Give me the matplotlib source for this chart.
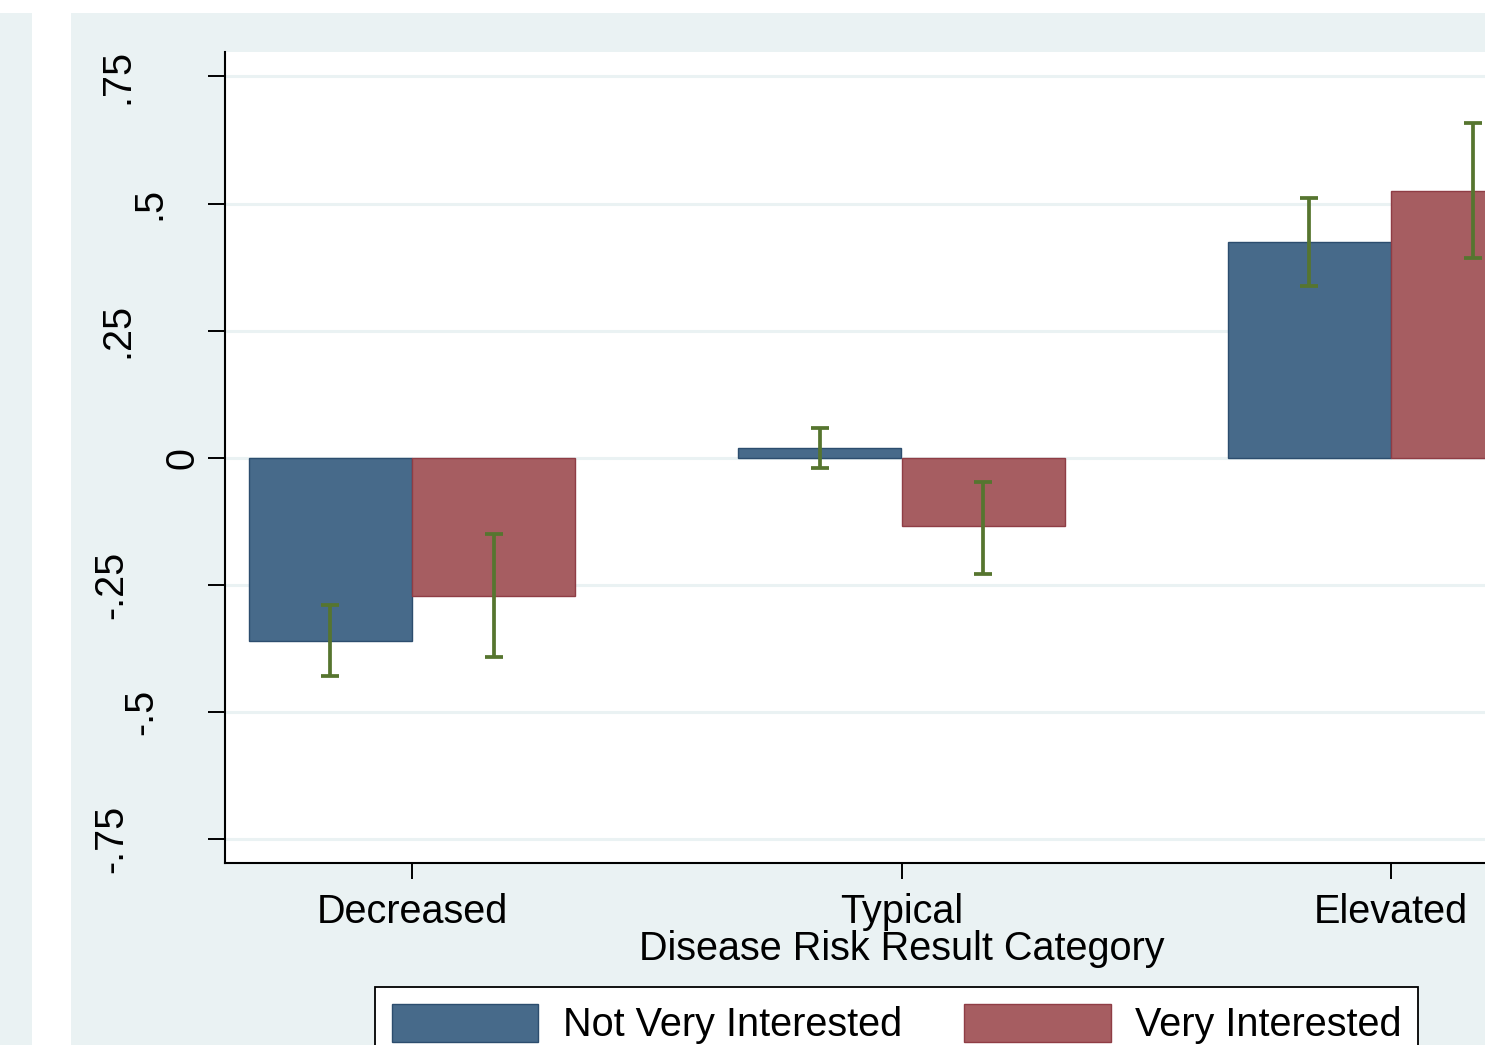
import numpy as np
import matplotlib
matplotlib.use('Agg')
import matplotlib.pyplot as plt
from matplotlib.patches import Rectangle
from matplotlib.transforms import blended_transform_factory

plt.rcParams['font.family'] = ['Liberation Sans', 'DejaVu Sans']

# data
categories = ['Decreased', 'Typical', 'Elevated']
series_names = ['Not Very Interested', 'Very Interested']
not_very = [-0.360, 0.019, 0.424]
not_very_lo = [-0.429, -0.021, 0.337]
not_very_hi = [-0.289, 0.058, 0.511]
very = [-0.272, -0.135, 0.524]
very_lo = [-0.392, -0.228, 0.392]
very_hi = [-0.150, -0.047, 0.659]
yticks = [0.75, 0.5, 0.25, 0, -0.25, -0.5, -0.75]
ytick_labels = ['.75', '.5', '.25', '0', '-.25', '-.5', '-.75']

# layout / style
W, H = 1485, 1045
BG = '#eaf2f3'
BLUE, BLUE_EDGE = '#476a8a', '#2c4d6e'
RED, RED_EDGE = '#a65d61', '#8f3d45'
GREEN = '#56752f'
FS = 28.5
ytick_label_px = [128, 160, 128, 193, 122, 152, 122]   # baseline x of each rotated label

fig = plt.figure(figsize=(W / 100, H / 100), dpi=100)
fig.patch.set_facecolor('white')
fig.patches.append(Rectangle((0, 0), 32 / W, (H - 13) / H, transform=fig.transFigure,
                             facecolor=BG, edgecolor='none', zorder=-2))
fig.patches.append(Rectangle((71 / W, 0), 1 - 71 / W, (H - 13) / H, transform=fig.transFigure,
                             facecolor=BG, edgecolor='none', zorder=-2))

ax = fig.add_axes([225 / W, (H - 863) / H, (1578 - 225) / W, (863 - 52) / H])
ax.set_facecolor('white')

x = np.arange(len(categories))
bw = 1 / 3
nv = np.array(not_very)
vv = np.array(very)
ax.bar(x - bw / 2, nv, bw, color=BLUE, edgecolor=BLUE_EDGE, linewidth=1, zorder=2, label=series_names[0])
ax.bar(x + bw / 2, vv, bw, color=RED, edgecolor=RED_EDGE, linewidth=1, zorder=2, label=series_names[1])

ax.errorbar(x - bw / 2, nv, yerr=[nv - np.array(not_very_lo), np.array(not_very_hi) - nv],
            fmt='none', ecolor=GREEN, elinewidth=2.7, capsize=6.3, capthick=2.7, zorder=3)
ax.errorbar(x + bw / 2, vv, yerr=[vv - np.array(very_lo), np.array(very_hi) - vv],
            fmt='none', ecolor=GREEN, elinewidth=2.7, capsize=6.3, capthick=2.7, zorder=3)

ax.set_xlim(-0.382, 2.382)
ax.set_ylim(-0.797, 0.798)
ax.set_xticks(x)
ax.set_xticklabels(categories, fontsize=FS)
ax.set_yticks(yticks)
ax.set_yticklabels([])
ax.tick_params(axis='x', length=11.5, width=1.4, pad=10.3, colors='black')
ax.tick_params(axis='y', length=12, width=1.4, pad=0)
ax.yaxis.grid(True, color=BG, linewidth=2.2)
ax.set_axisbelow(True)
for s in ['top', 'right']:
    ax.spines[s].set_visible(False)
for s in ['left', 'bottom']:
    ax.spines[s].set_linewidth(1.5)
    ax.spines[s].set_color('black')

# rotated y tick labels, placed like the original
tr = blended_transform_factory(fig.transFigure, ax.transData)
for v, lab, px in zip(yticks, ytick_labels, ytick_label_px):
    ax.text(px / W, v, lab, transform=tr, rotation=90, rotation_mode='anchor',
            ha='center', va='baseline', fontsize=FS, clip_on=False)

ax.set_xlabel('Disease Risk Result Category', fontsize=FS, labelpad=-1)

fig.legend(loc='upper left', bbox_to_anchor=(375 / W, 1 - 987 / H), bbox_transform=fig.transFigure,
           ncol=2, fontsize=FS, frameon=True, fancybox=False, framealpha=1, edgecolor='black',
           handlelength=3.7, handleheight=1.1, handletextpad=0.62, columnspacing=1.58,
           borderpad=0.42, borderaxespad=0)
fig.legends[0].get_frame().set_linewidth(1.3)

fig.savefig('out.png', dpi=100)
